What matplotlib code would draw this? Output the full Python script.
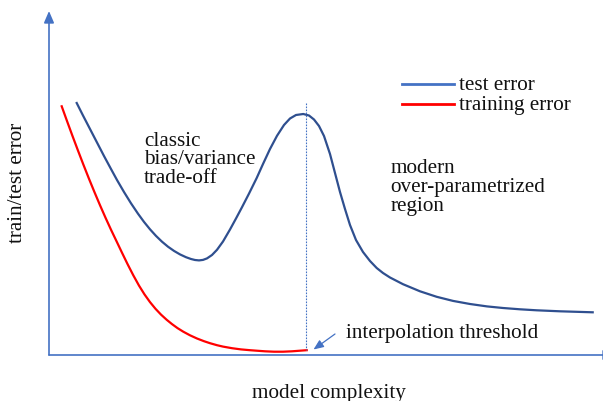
import matplotlib
matplotlib.use("Agg")
import matplotlib.pyplot as plt

# ---- data (model complexity vs error, arbitrary units) ----
test_x = [27.7, 34, 41, 48, 55, 62, 68, 75, 82, 89, 95, 101, 107, 113, 119,
          125, 131, 137, 142, 146, 150, 154, 158, 163, 168, 174, 181, 187,
          193, 200, 207.7, 214, 221, 228, 235, 241, 247, 254.3, 260, 265,
          270, 275, 281, 286, 291, 296, 301, 307, 314, 321, 327.7, 334, 341,
          354, 371, 387.7, 404, 421, 438, 454, 471, 487.7, 511, 543.7]
test_y = [252, 239.5, 226, 212.5, 199, 186, 175, 163, 151.7, 141.3, 133.1,
          125.7, 119.1, 113.3, 108.3, 104.1, 100.6, 97.8, 96, 95, 94.6, 95.1,
          96.6, 100, 105.2, 113.5, 125.5, 136.5, 147.8, 161.4, 177, 191, 206,
          219.2, 230, 236.5, 240, 241, 239.5, 235.5, 229, 219, 201, 182, 163,
          146, 130, 115, 103, 94, 87, 82, 77.5, 70.8, 63.7, 58.2, 54.1, 51,
          48.6, 47, 45.7, 44.7, 43.7, 42.7]

train_x = [12.7, 18, 23.5, 29, 34.3, 40, 45.5, 51, 56.5, 62, 67.7, 73, 78.5,
           84.3, 90, 95.5, 101, 106.5, 112, 117.7, 123, 128.5, 134.3, 141,
           148, 155, 161, 168, 174, 183, 192, 201, 207.7, 216, 225, 234, 243,
           251, 257.7]
train_y = [248.7, 234, 219, 204.4, 190.6, 176.2, 162.8, 149.8, 137.3, 125.3,
           113.4, 102.3, 91, 79.7, 69.4, 60.6, 52.9, 46.2, 40.4, 35.2, 30.9,
           26.9, 23.3, 19.7, 16.5, 13.8, 11.8, 9.8, 8.4, 6.8, 5.6, 4.8, 4.3,
           3.7, 3.3, 3.3, 3.7, 4.3, 4.8]

threshold_x = 256.5
series_labels = ["test error", "training error"]
region_labels = ["classic\nbias/variance\ntrade-off",
                 "modern\nover-parametrized\nregion"]
x_label = "model complexity"
y_label = "train/test error"
threshold_label = "interpolation threshold"

# ---- styles ----
axis_c = "#4472C4"
test_c = "#2F4F8F"
train_c = "#FF0000"
text_c = "#111111"
font = "Liberation Serif"
fs = 15.2

fig = plt.figure(figsize=(6.03, 4.02), dpi=100)
ax = fig.add_axes([0, 0, 1, 1])
ax.set_xlim(-49, 554)
ax.set_ylim(-46, 356)
ax.axis("off")

# axes with arrows
ax.annotate("", xy=(0, 344), xytext=(0, 0),
            arrowprops=dict(arrowstyle="-|>,head_length=0.7,head_width=0.3",
                            color=axis_c, lw=1.2, shrinkA=0, shrinkB=0))
ax.annotate("", xy=(566, 0), xytext=(0, 0), annotation_clip=False,
            arrowprops=dict(arrowstyle="-|>,head_length=0.7,head_width=0.3",
                            color=axis_c, lw=1.2, shrinkA=0, shrinkB=0))

# curves
ax.plot(test_x, test_y, color=test_c, lw=1.6, solid_joinstyle="round")
ax.plot(train_x, train_y, color=train_c, lw=1.6, solid_joinstyle="round")

# threshold dotted line
ax.plot([threshold_x, threshold_x], [max(test_y), train_y[-1]],
        color=axis_c, lw=0.8, ls=(0, (1.5, 1.2)))

# interpolation threshold arrow + label
ax.annotate("", xy=(264.5, 5.5), xytext=(286, 21),
            arrowprops=dict(arrowstyle="-|>,head_length=0.6,head_width=0.25",
                            color=axis_c, lw=0.9, shrinkA=0, shrinkB=0))
ax.text(297, 18, threshold_label, family=font, fontsize=fs,
        ha="left", va="baseline", color=text_c)

# region labels
ax.text(95, 196, region_labels[0], family=font, fontsize=fs,
        ha="left", va="center", linespacing=0.97, color=text_c)
ax.text(341.7, 168.5, region_labels[1], family=font, fontsize=fs,
        ha="left", va="center", linespacing=0.98, color=text_c)

# axis labels
ax.text(280.3, -42.3, x_label, family=font, fontsize=fs,
        ha="center", va="baseline", color=text_c)
ax.text(-31, 173, y_label, family=font, fontsize=fs, rotation=90,
        ha="center", va="center", color=text_c)

# legend (manual)
leg_colors = [axis_c, train_c]
leg_y = [270.7, 250.7]
for lab, c, yy in zip(series_labels, leg_colors, leg_y):
    ax.plot([352.7, 405], [yy, yy], color=c, lw=2.0)
    ax.text(410.3, yy, lab, family=font, fontsize=fs, ha="left",
            va="center", color=text_c)

fig.savefig("out.png", dpi=100)
